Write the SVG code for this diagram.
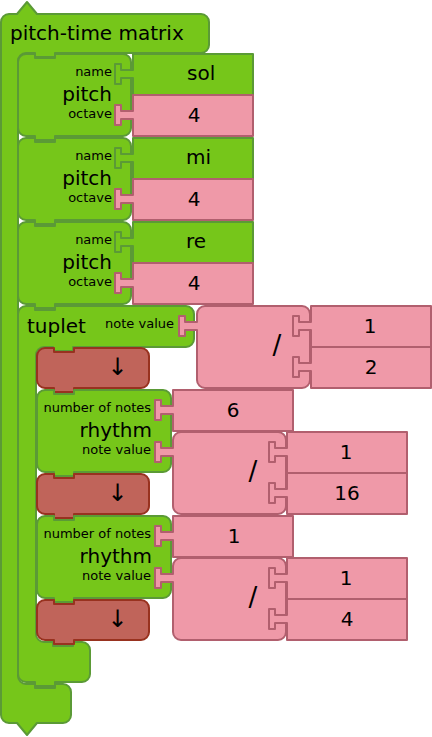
<svg xmlns="http://www.w3.org/2000/svg" xmlns:xlink="http://www.w3.org/1999/xlink" width="432" height="737" viewBox="0 0 432 737">
  <style>
    .g { fill: #76c61a; stroke: #5b9a36; stroke-width: 2; stroke-linejoin: round; }
    .p { fill: #ef99a8; stroke: #b15f6e; stroke-width: 2; stroke-linejoin: round; }
    .h { fill: #c0645a; stroke: #98321f; stroke-width: 2; stroke-linejoin: round; }
    text { font-family: "DejaVu Sans", "Noto Sans", sans-serif; fill: #000; }
    .big { font-size: 20px; }
    .sm { font-size: 13px; text-anchor: end; }
    .lab { font-size: 20px; text-anchor: end; }
    .v { font-size: 20px; text-anchor: middle; }
    .vs { font-size: 20px; }
    .op { font-size: 26px; text-anchor: middle; }
    .ar { font-size: 24px; text-anchor: middle; }
  </style>
  <defs>
    <!-- value block with its left plug (socket centre at y=20) -->
    <path id="val" d="M0,0 H120 V41 H0 V24 H-12 V30 H-18 V10 H-12 V16 H0 Z"/>
    <!-- division operator block with left plug -->
    <path id="div" d="M0,8 A8,8 0 0 1 8,0 H105 A8,8 0 0 1 113,8 V74 A8,8 0 0 1 105,82 H8 A8,8 0 0 1 0,74 V24 H-12 V30 H-18 V10 H-12 V16 H0 Z"/>
    <!-- two-argument flow blocks -->
    <path id="pitchShape" d="M0,8 A8,8 0 0 1 8,0 H17 V4 H37 V0 H105 A8,8 0 0 1 113,8 V74 A8,8 0 0 1 105,82 H37 V86 H17 V82 H8 A8,8 0 0 1 0,74 Z"/>
    <path id="rhythmShape" d="M0,8 A8,8 0 0 1 8,0 H17 V4 H37 V0 H126 A8,8 0 0 1 134,8 V74 A8,8 0 0 1 126,82 H37 V86 H17 V82 H8 A8,8 0 0 1 0,74 Z"/>
    <path id="hiddenShape" d="M0,8 A8,8 0 0 1 8,0 H17 V4 H37 V0 H104 A8,8 0 0 1 112,8 V32 A8,8 0 0 1 104,40 H37 V44 H17 V40 H8 A8,8 0 0 1 0,32 Z"/>
  </defs>

  <!-- pitch-time matrix clamp -->
  <g id="matrix">
    <path class="g" d="M1,22 A8,8 0 0 1 9,14 H17 L27,2 L37,14 H201 A8,8 0 0 1 209,22 V45 A8,8 0 0 1 201,53 H55 V57 H35 V53 H26 A8,8 0 0 0 18,61 V676 A8,8 0 0 0 26,684 H35 V688 H55 V684 H63 A8,8 0 0 1 71,692 V715 A8,8 0 0 1 63,723 H37 L27,735 L17,723 H9 A8,8 0 0 1 1,715 Z"/>
    <text class="big" x="10" y="40">pitch-time matrix</text>
  </g>

  <!-- pitch blocks -->
  <g id="pitch1" transform="translate(18,54)">
    <use xlink:href="#pitchShape" class="g"/>
    <text class="sm" x="94" y="22">name</text>
    <text class="lab" x="94" y="47">pitch</text>
    <text class="sm" x="94" y="64">octave</text>
  </g>
  <g id="pitch1-name" transform="translate(133,54)">
    <use xlink:href="#val" class="g"/>
    <text class="vs" x="54" y="26">sol</text>
  </g>
  <g id="pitch1-octave" transform="translate(133,95)">
    <use xlink:href="#val" class="p"/>
    <text class="v" x="61" y="27">4</text>
  </g>

  <g id="pitch2" transform="translate(18,138)">
    <use xlink:href="#pitchShape" class="g"/>
    <text class="sm" x="94" y="22">name</text>
    <text class="lab" x="94" y="47">pitch</text>
    <text class="sm" x="94" y="64">octave</text>
  </g>
  <g id="pitch2-name" transform="translate(133,138)">
    <use xlink:href="#val" class="g"/>
    <text class="vs" x="53" y="26">mi</text>
  </g>
  <g id="pitch2-octave" transform="translate(133,179)">
    <use xlink:href="#val" class="p"/>
    <text class="v" x="61" y="27">4</text>
  </g>

  <g id="pitch3" transform="translate(18,222)">
    <use xlink:href="#pitchShape" class="g"/>
    <text class="sm" x="94" y="22">name</text>
    <text class="lab" x="94" y="47">pitch</text>
    <text class="sm" x="94" y="64">octave</text>
  </g>
  <g id="pitch3-name" transform="translate(133,222)">
    <use xlink:href="#val" class="g"/>
    <text class="vs" x="53" y="26">re</text>
  </g>
  <g id="pitch3-octave" transform="translate(133,263)">
    <use xlink:href="#val" class="p"/>
    <text class="v" x="61" y="27">4</text>
  </g>

  <!-- tuplet clamp -->
  <g id="tuplet" transform="translate(18,306)">
    <path class="g" d="M0,8 A8,8 0 0 1 8,0 H17 V4 H37 V0 H168 A8,8 0 0 1 176,8 V33 A8,8 0 0 1 168,41 H55 V45 H35 V41 H26 A8,8 0 0 0 18,49 V328 A8,8 0 0 0 26,336 H35 V340 H55 V336 H64 A8,8 0 0 1 72,344 V368 A8,8 0 0 1 64,376 H37 V380 H17 V376 H8 A8,8 0 0 1 0,368 Z"/>
    <text class="big" x="9" y="27">tuplet</text>
    <text class="sm" x="156" y="22">note value</text>
  </g>
  <g id="tuplet-div" transform="translate(197,306)">
    <use xlink:href="#div" class="p"/>
    <text class="op" x="80" y="48">/</text>
  </g>
  <g id="tuplet-num" transform="translate(311,306)">
    <use xlink:href="#val" class="p"/>
    <text class="v" x="59" y="27">1</text>
  </g>
  <g id="tuplet-den" transform="translate(311,347)">
    <use xlink:href="#val" class="p"/>
    <text class="v" x="60" y="27">2</text>
  </g>

  <!-- hidden (spacer) block 1 -->
  <g id="hidden1" transform="translate(37,348)">
    <use xlink:href="#hiddenShape" class="h"/>
    <text class="ar" x="80.5" y="27">↓</text>
  </g>

  <!-- rhythm 1 -->
  <g id="rhythm1" transform="translate(37,390)">
    <use xlink:href="#rhythmShape" class="g"/>
    <text class="sm" x="114" y="22">number of notes</text>
    <text class="lab" x="115" y="47">rhythm</text>
    <text class="sm" x="114" y="64">note value</text>
  </g>
  <g id="rhythm1-count" transform="translate(173,390)">
    <use xlink:href="#val" class="p"/>
    <text class="v" x="60" y="27">6</text>
  </g>
  <g id="rhythm1-div" transform="translate(173,432)">
    <use xlink:href="#div" class="p"/>
    <text class="op" x="80" y="48">/</text>
  </g>
  <g id="rhythm1-num" transform="translate(287,432)">
    <use xlink:href="#val" class="p"/>
    <text class="v" x="59" y="27">1</text>
  </g>
  <g id="rhythm1-den" transform="translate(287,473)">
    <use xlink:href="#val" class="p"/>
    <text class="v" x="60" y="27">16</text>
  </g>

  <!-- hidden (spacer) block 2 -->
  <g id="hidden2" transform="translate(37,474)">
    <use xlink:href="#hiddenShape" class="h"/>
    <text class="ar" x="80.5" y="27">↓</text>
  </g>

  <!-- rhythm 2 -->
  <g id="rhythm2" transform="translate(37,516)">
    <use xlink:href="#rhythmShape" class="g"/>
    <text class="sm" x="114" y="22">number of notes</text>
    <text class="lab" x="115" y="47">rhythm</text>
    <text class="sm" x="114" y="64">note value</text>
  </g>
  <g id="rhythm2-count" transform="translate(173,516)">
    <use xlink:href="#val" class="p"/>
    <text class="v" x="61" y="27">1</text>
  </g>
  <g id="rhythm2-div" transform="translate(173,558)">
    <use xlink:href="#div" class="p"/>
    <text class="op" x="80" y="48">/</text>
  </g>
  <g id="rhythm2-num" transform="translate(287,558)">
    <use xlink:href="#val" class="p"/>
    <text class="v" x="59" y="27">1</text>
  </g>
  <g id="rhythm2-den" transform="translate(287,599)">
    <use xlink:href="#val" class="p"/>
    <text class="v" x="60" y="27">4</text>
  </g>

  <!-- hidden (spacer) block 3 -->
  <g id="hidden3" transform="translate(37,600)">
    <use xlink:href="#hiddenShape" class="h"/>
    <text class="ar" x="80.5" y="27">↓</text>
  </g>
</svg>
